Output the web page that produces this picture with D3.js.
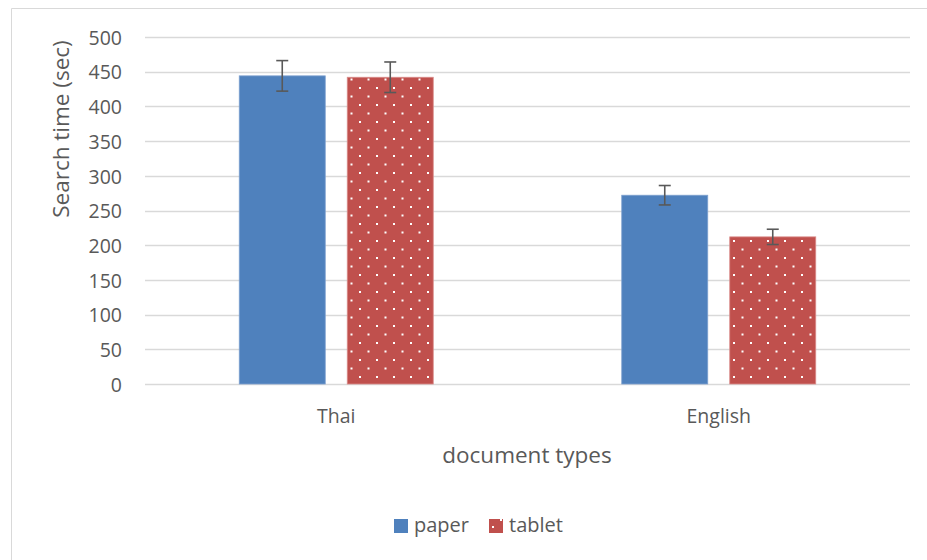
<!DOCTYPE html>
<html><head><meta charset="utf-8">
<script src="https://cdn.jsdelivr.net/npm/d3@7"></script>
<style>body{margin:0;background:#fff}text{font-family:"Open Sans",sans-serif}</style>
</head><body>
<svg id="c" width="927" height="560"></svg>
<script>
const categories = ["Thai", "English"];
const seriesNames = ["paper", "tablet"];
const paperValues = [444, 272];
const tabletValues = [442, 212];
const paperErrors = [22, 14];
const tabletErrors = [22, 11];
const yTicks = [0, 50, 100, 150, 200, 250, 300, 350, 400, 450, 500];

const svg = d3.select("#c");
const colors = {paper: "#4f81bd", tablet: "#c0504d"};
const txt = "#595959";
const FF = "'Open Sans',sans-serif";

// chart frame (top and left borders visible)
svg.append("line").attr("x1", 11.5).attr("x2", 927).attr("y1", 8.5).attr("y2", 8.5).attr("stroke", "#d9d9d9");
svg.append("line").attr("x1", 11.5).attr("x2", 11.5).attr("y1", 8.5).attr("y2", 560).attr("stroke", "#d9d9d9");

const defs = svg.append("defs");
const pat = defs.append("pattern").attr("id", "dots").attr("patternUnits", "userSpaceOnUse")
  .attr("width", 17).attr("height", 17);
pat.append("rect").attr("width", 17).attr("height", 17).attr("fill", colors.tablet);
pat.append("rect").attr("x", 2).attr("y", 2).attr("width", 2).attr("height", 2).attr("fill", "#fff");
pat.append("rect").attr("x", 10.5).attr("y", 10.5).attr("width", 2).attr("height", 2).attr("fill", "#fff");

const x0 = d3.scaleBand().domain(categories).range([145, 910]);
const y = d3.scaleLinear().domain([0, 500]).range([384, 37]);

// grid
svg.append("g").selectAll("line").data(yTicks).join("line")
  .attr("x1", 145).attr("x2", 910)
  .attr("y1", d => Math.round(y(d)) + 0.5).attr("y2", d => Math.round(y(d)) + 0.5)
  .attr("stroke", "#d9d9d9").attr("stroke-width", 1.3);

// y axis labels
const yAxis = d3.axisLeft(y).tickValues(yTicks).tickSize(0).tickPadding(0);
const yg = svg.append("g").attr("transform", "translate(122,0)").call(yAxis);
yg.select(".domain").remove();
yg.selectAll("text").attr("fill", txt).attr("dy", "0.37em")
  .style("font-size", "19.5px").style("font-family", FF);

// x axis
const xAxis = d3.axisBottom(x0).tickSize(0).tickPadding(0);
const xg = svg.append("g").attr("transform", "translate(0,422.5)").call(xAxis);
xg.select(".domain").remove();
xg.selectAll("text").attr("fill", txt).attr("y", 0).attr("dy", 0)
  .style("font-size", "19.5px").style("font-family", FF);

const barW = 86, gap = 22;
const data = categories.map((c, i) => ([
  {cat: c, s: "paper", v: paperValues[i], e: paperErrors[i], off: -(gap / 2 + barW)},
  {cat: c, s: "tablet", v: tabletValues[i], e: tabletErrors[i], off: gap / 2}
])).flat();

const cx = d => x0(d.cat) + x0.bandwidth() / 2;

svg.append("g").selectAll("rect").data(data).join("rect")
  .attr("x", d => cx(d) + d.off)
  .attr("y", d => y(d.v))
  .attr("width", barW)
  .attr("height", d => y(0) - y(d.v))
  .attr("fill", d => d.s === "paper" ? colors.paper : "url(#dots)")
  .attr("stroke", d => d.s === "paper" ? "#7da0cf" : "#d98c8a")
  .attr("stroke-width", 0.8);

// error bars
const eg = svg.append("g").attr("stroke", "#595959").attr("stroke-width", 1.6);
data.forEach(d => {
  const mx = cx(d) + d.off + barW / 2;
  eg.append("line").attr("x1", mx).attr("x2", mx).attr("y1", y(d.v + d.e)).attr("y2", y(d.v - d.e));
  eg.append("line").attr("x1", mx - 6).attr("x2", mx + 6).attr("y1", y(d.v + d.e)).attr("y2", y(d.v + d.e));
  eg.append("line").attr("x1", mx - 6).attr("x2", mx + 6).attr("y1", y(d.v - d.e)).attr("y2", y(d.v - d.e));
});

// axis titles
svg.append("text").attr("transform", "translate(69,129) rotate(-90)")
  .attr("text-anchor", "middle").attr("fill", txt).style("font-size", "22.5px").text("Search time (sec)");
svg.append("text").attr("x", 527).attr("y", 463).attr("text-anchor", "middle")
  .attr("fill", txt).style("font-size", "22.5px").text("document types");

// legend
const leg = svg.append("g");
const legItems = [{s: "paper", x: 394}, {s: "tablet", x: 489}];
legItems.forEach(l => {
  leg.append("rect").attr("x", l.x).attr("y", 519).attr("width", 14).attr("height", 14)
    .attr("fill", l.s === "paper" ? colors.paper : colors.tablet);
  if (l.s === "tablet") {
    leg.append("rect").attr("x", l.x + 3).attr("y", 526).attr("width", 2).attr("height", 2).attr("fill", "#fff");
    leg.append("rect").attr("x", l.x + 11).attr("y", 519).attr("width", 2).attr("height", 2).attr("fill", "#fff");
  }
  leg.append("text").attr("x", l.x + 20).attr("y", 532).attr("fill", txt)
    .style("font-size", "20px").text(l.s);
});
</script>
</body></html>
